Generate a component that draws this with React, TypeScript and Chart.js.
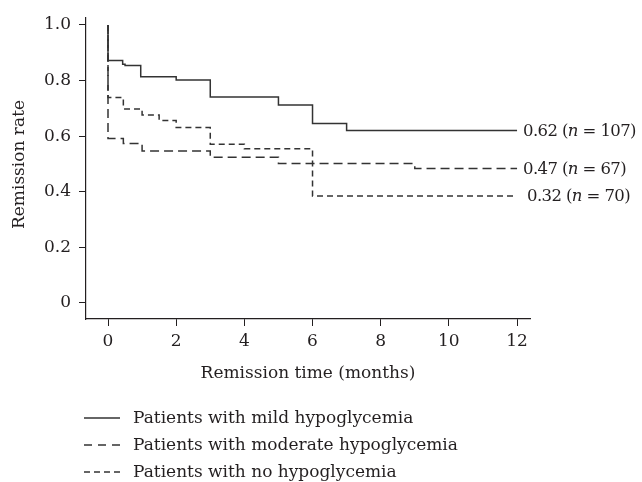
import { useEffect, useRef } from 'react';
import { Chart, registerables } from 'chart.js';

Chart.register(...registerables);

// Kaplan–Meier style step data (time in months, remission rate)
const mildTimes = [0, 0, 0.43, 0.5, 0.96, 2, 3, 5, 6, 7, 12];
const mildRates = [1.0, 0.872, 0.859, 0.854, 0.814, 0.802, 0.741, 0.712, 0.646, 0.62, 0.62];

const moderateTimes = [0, 0, 0.45, 1, 3, 5, 9, 12];
const moderateRates = [1.0, 0.592, 0.574, 0.547, 0.524, 0.502, 0.484, 0.484];

const noneTimes = [0, 0, 0.45, 1, 1.5, 2, 3, 4, 6, 12];
const noneRates = [1.0, 0.739, 0.698, 0.676, 0.656, 0.631, 0.571, 0.555, 0.385, 0.385];

const seriesLabels = [
  'Patients with mild hypoglycemia',
  'Patients with moderate hypoglycemia',
  'Patients with no hypoglycemia',
];
const endRates = ['0.62', '0.47', '0.32'];
const endCounts = ['107', '67', '70'];

const xTicks = [0, 2, 4, 6, 8, 10, 12];
const yTicks = [0, 0.2, 0.4, 0.6, 0.8, 1.0];

const xTitle = 'Remission time (months)';
const yTitle = 'Remission rate';

const FONT = '"DejaVu Serif", serif';
const TEXT = '#231f20';
const LINE = '#333333';
const dashes: number[][] = [[], [9, 5], [6, 4]];

export default function App() {
  const ref = useRef<HTMLCanvasElement | null>(null);

  useEffect(() => {
    if (!ref.current) return;
    const toPts = (xs: number[], ys: number[]) => xs.map((x, i) => ({ x, y: ys[i] }));

    const overlay = {
      id: 'overlay',
      afterDraw(chart: any) {
        const ctx = chart.ctx as CanvasRenderingContext2D;
        const { chartArea } = chart;
        const xs = chart.scales.x;
        const ys = chart.scales.y;
        ctx.save();
        ctx.fillStyle = TEXT;
        ctx.font = `17px ${FONT}`;
        // x title
        ctx.textAlign = 'center';
        ctx.textBaseline = 'middle';
        ctx.fillText(xTitle, (chartArea.left + chartArea.right) / 2, 374);
        // y title
        ctx.save();
        ctx.translate(20, (chartArea.top + chartArea.bottom) / 2 - 4);
        ctx.rotate(-Math.PI / 2);
        ctx.fillText(yTitle, 0, 0);
        ctx.restore();

        // end labels
        const lastVals = [
          mildRates[mildRates.length - 1],
          moderateRates[moderateRates.length - 1],
          noneRates[noneRates.length - 1],
        ];
        const lastX = xTicks[xTicks.length - 1];
        const offs = [6, 6, 10];
        ctx.textAlign = 'left';
        ctx.save();
        (ctx as any).letterSpacing = '-0.6px';
        lastVals.forEach((v, i) => {
          let x = xs.getPixelForValue(lastX) + offs[i];
          const y = ys.getPixelForValue(v) + 1;
          const parts: [string, boolean][] = [
            [`${endRates[i]} (`, false],
            ['n', true],
            [` = ${endCounts[i]})`, false],
          ];
          parts.forEach(([t, it]) => {
            ctx.font = `${it ? 'italic ' : ''}16.5px ${FONT}`;
            ctx.fillText(t, x, y);
            x += ctx.measureText(t).width;
          });
        });
        ctx.restore();

        // legend
        ctx.font = `17px ${FONT}`;
        ctx.textAlign = 'left';
        ctx.textBaseline = 'middle';
        const legY = [418, 445, 472];
        seriesLabels.forEach((lab, i) => {
          ctx.save();
          ctx.strokeStyle = LINE;
          ctx.lineWidth = 1.5;
          ctx.setLineDash(i === 1 ? [8, 6] : dashes[i]);
          ctx.beginPath();
          ctx.moveTo(84, legY[i]);
          ctx.lineTo(120, legY[i]);
          ctx.stroke();
          ctx.restore();
          ctx.fillText(lab, 133, legY[i] + 1);
        });
        ctx.restore();
      },
    };

    const chart = new Chart(ref.current, {
      type: 'line',
      data: {
        datasets: [
          { label: seriesLabels[0], data: toPts(mildTimes, mildRates), borderDash: dashes[0] },
          { label: seriesLabels[1], data: toPts(moderateTimes, moderateRates), borderDash: dashes[1] },
          { label: seriesLabels[2], data: toPts(noneTimes, noneRates), borderDash: dashes[2] },
        ].map((d) => ({
          ...d,
          borderColor: LINE,
          borderWidth: 1.5,
          pointRadius: 0,
          stepped: true,
          fill: false,
        })),
      },
      options: {
        animation: false,
        responsive: true,
        maintainAspectRatio: false,
        layout: { padding: { left: 0, right: 112, top: 18, bottom: 123 } },
        plugins: { legend: { display: false }, tooltip: { enabled: false } },
        scales: {
          x: {
            type: 'linear',
            min: -0.6455,
            max: 12.38,
            afterBuildTicks: (s: any) => {
              s.ticks = xTicks.map((v) => ({ value: v }));
            },
            afterFit: (s: any) => {
              s.height = 40;
              s.paddingLeft = 0;
              s.paddingRight = 0;
            },
            grid: { drawOnChartArea: false, drawTicks: true, tickLength: 7, color: TEXT, lineWidth: 1 },
            border: { display: true, color: TEXT, width: 1.2 },
            ticks: {
              color: TEXT,
              font: { family: FONT, size: 17 },
              padding: 5,
              maxRotation: 0,
              callback: (v: any) => String(v),
            },
          },
          y: {
            type: 'linear',
            min: -0.0576,
            max: 1.025,
            afterBuildTicks: (s: any) => {
              s.ticks = yTicks.map((v) => ({ value: v }));
            },
            afterFit: (s: any) => {
              s.width = 86;
              s.paddingTop = 0;
              s.paddingBottom = 0;
            },
            grid: { drawOnChartArea: false, drawTicks: true, tickLength: 7, color: TEXT, lineWidth: 1 },
            border: { display: true, color: TEXT, width: 1.2 },
            ticks: {
              color: TEXT,
              font: { family: FONT, size: 17 },
              padding: 8,
              callback: (v: any) => (v === 0 ? '0' : Number(v).toFixed(1)),
            },
          },
        },
      },
      plugins: [overlay],
    } as any);

    return () => chart.destroy();
  }, []);

  return (
    <div style={{ position: 'fixed', left: 0, top: 0, width: 642, height: 482 }}>
      <canvas ref={ref} />
    </div>
  );
}
